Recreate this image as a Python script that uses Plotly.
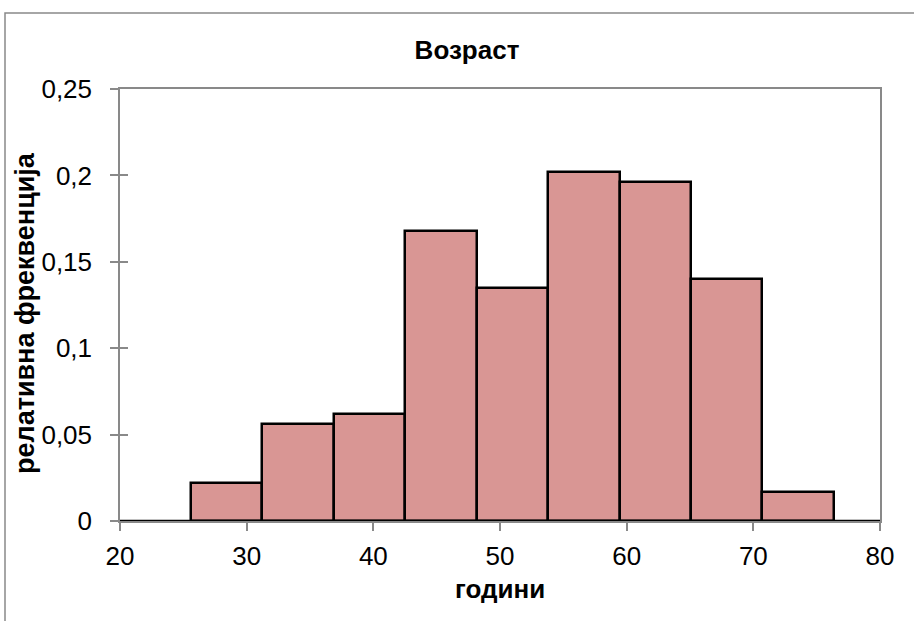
import plotly.graph_objects as go

# Histogram data: bin centers (years) and relative frequency
bin_centers = [28.42, 34.06, 39.70, 45.34, 50.98, 56.62, 62.26, 67.90, 73.54]
rel_freq = [0.022, 0.056, 0.062, 0.168, 0.135, 0.202, 0.196, 0.140, 0.017]
bin_width = 5.64

x_ticks = [20, 30, 40, 50, 60, 70, 80]
y_ticks = [0, 0.05, 0.1, 0.15, 0.2, 0.25]

title_text = "Возраст"
x_title = "години"
y_title = "релативна фреквенција"

fig = go.Figure()
fig.add_trace(go.Bar(
    x=bin_centers, y=rel_freq, width=[bin_width] * len(bin_centers),
    marker=dict(color="#D99694", line=dict(color="black", width=2.5)),
    showlegend=False,
))

font_family = "Liberation Sans, Arial, sans-serif"
gray = "#898989"

fig.update_layout(
    width=914, height=621,
    margin=dict(l=120, r=34, t=89, b=100),
    paper_bgcolor="white", plot_bgcolor="white",
    separators=", ",
    font=dict(family=font_family, color="black", size=26),
    bargap=0,
    title=dict(text="<b>" + title_text + "</b>", x=467 / 914, xref="container", xanchor="center",
               y=1 - 50 / 621, yref="container", yanchor="middle",
               font=dict(size=26, family=font_family, color="black")),
    xaxis=dict(range=[20, 80], tickvals=x_ticks, ticks="outside", ticklen=8, tickcolor=gray,
               tickwidth=1.5, showgrid=False, zeroline=False, showline=True, linecolor=gray,
               linewidth=1.5, mirror=True, ticklabelstandoff=3,
               tickfont=dict(size=26, family=font_family)),
    yaxis=dict(range=[0, 0.25], tickvals=y_ticks, ticks="outside", ticklen=8, tickcolor=gray,
               tickwidth=1.5, showgrid=False, zeroline=False, showline=True, linecolor=gray,
               linewidth=1.5, mirror=True, ticklabelstandoff=13,
               tickfont=dict(size=26, family=font_family)),
    # overlay axis to draw the inner half of the crossing y ticks
    yaxis2=dict(range=[0, 0.25], tickvals=y_ticks, ticks="inside", ticklen=8, tickcolor=gray,
                tickwidth=1.5, showticklabels=False, showgrid=False, zeroline=False,
                overlaying="y", side="left", showline=False),
)

# invisible trace to activate yaxis2
fig.add_trace(go.Scatter(x=[20], y=[0], yaxis="y2", mode="markers",
                         marker=dict(opacity=0), showlegend=False, hoverinfo="skip"))

fig.add_annotation(text="<b>" + x_title + "</b>", xref="paper", yref="paper",
                   x=(500 - 120) / 760, y=(521 - 589) / 432, xanchor="center", yanchor="middle",
                   showarrow=False, font=dict(size=26, family=font_family, color="black"))
fig.add_annotation(text="<b>" + y_title + "</b>", xref="paper", yref="paper",
                   x=(25 - 120) / 760, y=(521 - 313) / 432, xanchor="center", yanchor="middle",
                   textangle=-90, showarrow=False,
                   font=dict(size=27, family=font_family, color="black"))

# Black baseline along y = 0
fig.add_shape(type="line", xref="paper", yref="y", x0=0, x1=1, y0=0, y1=0,
              line=dict(color="black", width=2.5), layer="above")

# Outer chart border
fig.add_shape(type="rect", xref="paper", yref="paper",
              x0=(5 - 120) / 760, x1=1.2, y0=-0.3, y1=(521 - 13) / 432,
              line=dict(color=gray, width=1.5), layer="below")

fig.write_html("out.html")
